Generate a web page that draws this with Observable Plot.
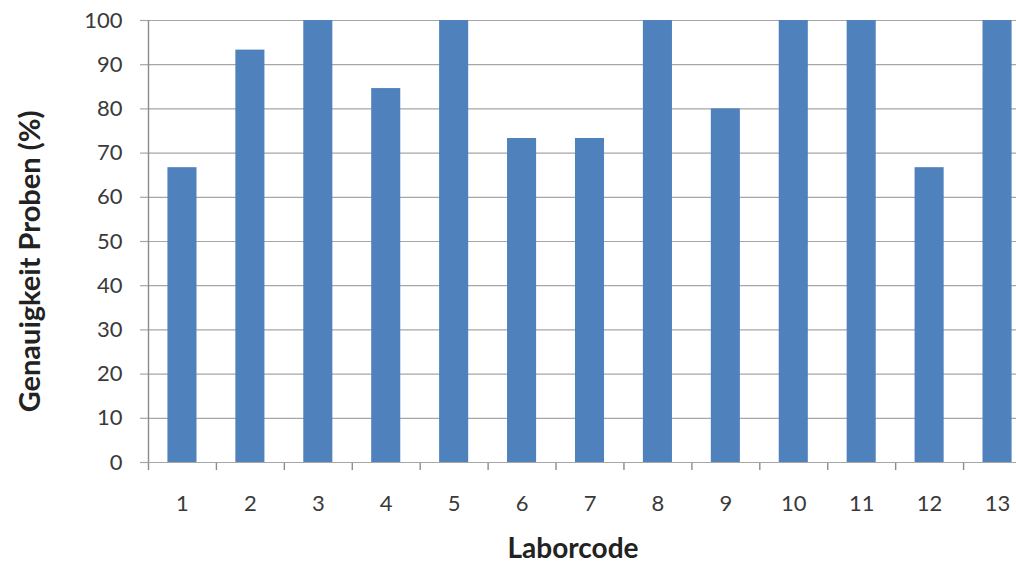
<!DOCTYPE html>
<html>
<head>
<meta charset="utf-8">
<script src="https://cdn.jsdelivr.net/npm/d3@7"></script>
<script src="https://cdn.jsdelivr.net/npm/@observablehq/plot@0.6"></script>
<style>
  html, body { margin: 0; padding: 0; background: #fff; overflow: hidden; width: 1016px; height: 566px; }
  #chart { width: 1016px; height: 566px; overflow: hidden; }
  #chart svg { display: block; max-width: none !important; }
</style>
</head>
<body>
<div id="chart"></div>
<script>
const codes = [1, 2, 3, 4, 5, 6, 7, 8, 9, 10, 11, 12, 13];
const values = [66.7, 93.3, 100, 84.6, 100, 73.3, 73.3, 100, 80, 100, 100, 66.7, 100];
const yTicks = [0, 10, 20, 30, 40, 50, 60, 70, 80, 90, 100];
const xTitle = "Laborcode";
const yTitle = "Genauigkeit Proben (%)";

const data = codes.map((c, i) => ({code: c, value: values[i]}));
const boundaries = codes.map(c => c - 0.5).concat([codes[codes.length - 1] + 0.5]);
const half = 0.214;

const chart = Plot.plot({
  width: 1031,
  height: 566,
  marginLeft: 148,
  marginRight: 0,
  marginTop: 20,
  marginBottom: 104,
  style: {fontFamily: "Lato, sans-serif", fontSize: "22px", color: "#333", background: "#fff", maxWidth: "none"},
  x: {domain: [0.5, 13.5], axis: null},
  y: {domain: [0, 100], axis: null},
  marks: [
    Plot.ruleY(yTicks, {stroke: "#a6a6a6", strokeWidth: 1.2}),
    Plot.axisY({ticks: yTicks, tickSize: 8, tickPadding: 18, stroke: "#a6a6a6", strokeWidth: 1.2, label: null, fontSize: 22, fill: "#3a3a3a", tickFormat: d => d}),
    Plot.rectY(data, {x1: d => d.code - half, x2: d => d.code + half, y: "value", fill: "#4f81bd"}),
    Plot.ruleX([0.5], {y1: 0, y2: 100, stroke: "#8c8c8c", strokeWidth: 1.4}),
    Plot.axisX({ticks: boundaries, tickSize: 8, tickFormat: () => "", stroke: "#8c8c8c", strokeWidth: 1.4, label: null}),
    Plot.axisX({ticks: codes, tickSize: 0, tickPadding: 33, label: null, fontSize: 22, fill: "#3a3a3a", tickFormat: d => String(d)}),
    Plot.ruleY([0], {stroke: "#a6a6a6", strokeWidth: 1.2}),
    Plot.text([xTitle], {frameAnchor: "bottom", textAnchor: "middle", lineAnchor: "middle", dy: 87, dx: -17, fontSize: 28, fontWeight: "bold", fill: "#222", text: d => d}),
    Plot.text([yTitle], {frameAnchor: "left", textAnchor: "middle", lineAnchor: "middle", dx: -118, dy: 20, rotate: -90, fontSize: 29, fontWeight: "bold", fill: "#222", text: d => d})
  ]
});
document.getElementById("chart").appendChild(chart);
</script>
</body>
</html>
